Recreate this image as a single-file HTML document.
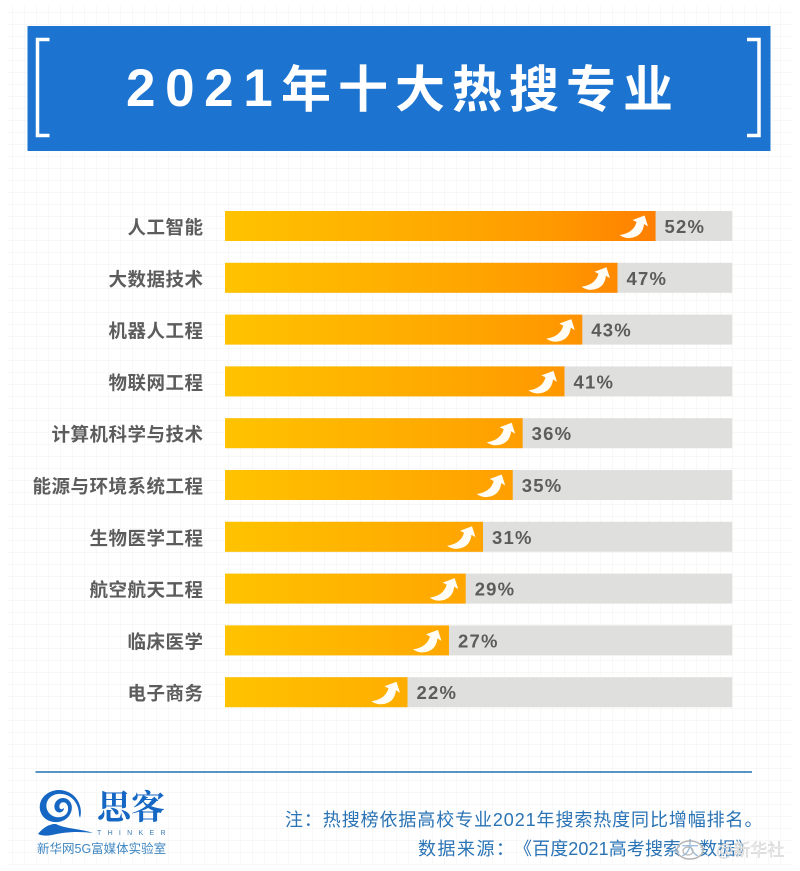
<!DOCTYPE html>
<html lang="zh">
<head>
<meta charset="utf-8">
<title>2021年十大热搜专业</title>
<style>
html,body{margin:0;padding:0;background:#fff;}
#stage{display:block;width:800px;height:871px;}
text{font-family:"Liberation Sans","Noto Sans CJK SC",sans-serif;}
</style>
</head>
<body>
<svg id="stage" xmlns="http://www.w3.org/2000/svg" width="800" height="871" viewBox="0 0 800 871">
  <defs>
    <pattern id="gridPattern" width="12" height="12" patternUnits="userSpaceOnUse">
      <path d="M0 0H12M0 0V12" stroke="#f1f1f1" stroke-width="1" fill="none"/>
    </pattern>
    <linearGradient id="barGradient" gradientUnits="userSpaceOnUse" x1="225" y1="0" x2="656" y2="0">
      <stop offset="0" stop-color="#ffc300"/>
      <stop offset="0.5" stop-color="#ffa900"/>
      <stop offset="0.75" stop-color="#ff9a00"/>
      <stop offset="1" stop-color="#ff7f00"/>
    </linearGradient>
  </defs>
  <rect x="0" y="0" width="800" height="871" fill="#ffffff"/>
  <rect x="8" y="6" width="784" height="860" fill="url(#gridPattern)"/>

  <g>
    <rect x="27.5" y="26" width="743" height="125" fill="#1c74d0"/>
    <path d="M49.5 39.5H37.5V135.5H49.5" fill="none" stroke="#ffffff" stroke-width="3.5"/>
    <path d="M747 39.5H759V135.5H747" fill="none" stroke="#ffffff" stroke-width="3.5"/>
    <text x="126" y="106" font-size="53" font-weight="700" fill="#ffffff" letter-spacing="9.6">2021</text>
    <text x="281" y="107" font-size="50" font-weight="700" fill="#ffffff" letter-spacing="7">年十大热搜专业</text>
  </g>

  <g id="chart"></g>

  <line x1="35.5" y1="772" x2="752" y2="772" stroke="#2272b0" stroke-width="1.6"/>

  <g>
    <path d="M57 790C43 792 37 803 41 813C45 823 61 826 69 816C75 808 71 798 63 798C56 798 52 806 56 811C59 814 64 812 64 808C61 811 58 808 60 804C63 800 69 803 68 810C67 818 55 820 49 813C43 805 48 795 58 794C70 793 79 802 79 815L80 818C84 806 75 789 57 790Z" fill="#1567c3"/>
    <path d="M38 834C44 826 54 822 58 825C68 829 82 829 93 833C78 831 64 832 52 835C47 836 42 836 38 834Z" fill="#1567c3"/>
    <text x="97" y="819" font-size="34" font-weight="700" fill="#1567c3" style="font-family:'Noto Serif CJK SC',serif">思客</text>
    <text x="97" y="835" font-size="7" fill="#3f7fb8" letter-spacing="6.3">THINKER</text>
    <text x="37" y="853" font-size="12.5" fill="#3f86c0">新华网5G富媒体实验室</text>
  </g>

  <text x="285" y="826" font-size="18" fill="#2a73b5" letter-spacing="0.9">注：热搜榜依据高校专业2021年搜索热度同比增幅排名。</text>
  <text x="418" y="855" font-size="18" fill="#2a73b5" letter-spacing="1.5">数据来源：</text>
  <text x="514" y="855" font-size="18" fill="#2a73b5" letter-spacing="0.1">《百度2021高考搜索大数据》</text>

  <g>
    <text x="716" y="856" font-size="17" fill="#eeeeee" stroke="#c9c9c9" stroke-width="0.4">@新华社</text>
    <ellipse cx="690" cy="850" rx="13" ry="9" fill="#ffffff" fill-opacity="0.55" stroke="#b5b5b5" stroke-width="1.5"/>
    <ellipse cx="688" cy="851" rx="5" ry="4" fill="none" stroke="#b5b5b5" stroke-width="1.2"/>
  </g>
</svg>

<script>
const categories = ["人工智能","大数据技术","机器人工程","物联网工程","计算机科学与技术","能源与环境系统工程","生物医学工程","航空航天工程","临床医学","电子商务"];
const barValues = [52, 47.4, 43.15, 41, 35.95, 34.75, 31.16, 29.07, 27.05, 22.04];

const svgNS = "http://www.w3.org/2000/svg";
const chart = document.getElementById("chart");
const trackLeft = 225, trackRight = 732.3, rowTop = 211, rowStep = 51.8, barHeight = 30;
const unitsPerPoint = 8.28;

function xScale(v){ return trackLeft + v * unitsPerPoint; }
function yScale(i){ return rowTop + i * rowStep; }
function make(tag, attrs){
  const el = document.createElementNS(svgNS, tag);
  for (const k in attrs) el.setAttribute(k, attrs[k]);
  return el;
}

categories.forEach(function(cat, i){
  const v = barValues[i];
  const y = yScale(i);
  const end = xScale(v);

  const row = make("g", {});
  
  

  const label = make("text", {x: 203.5, y: y + 23, "text-anchor": "end", "font-size": 18.5, "font-weight": 700, fill: "#5c5c5c", "letter-spacing": 0.5});
  
  
  label.textContent = cat;
  row.appendChild(label);

  const track = make("rect", {x: trackLeft, y: y, width: trackRight - trackLeft, height: barHeight, fill: "#dfdfdd"});
  
  
  row.appendChild(track);

  const bar = make("rect", {x: trackLeft, y: y, width: end - trackLeft, height: barHeight, fill: "url(#barGradient)"});
  
  
  row.appendChild(bar);

  const arrow = make("path", {
    d: "M-36 24Q-22 22 -19 11L-23 9L-11 4.5L-7.5 15.5L-11.5 13Q-13 26 -26 27Q-31 27.5 -36 24Z",
    fill: "#fffdf5",
    transform: "translate(" + end + " " + y + ")"
  });
  
  
  row.appendChild(arrow);

  const pct = make("text", {x: end + 9, y: y + 22, "font-size": 18.5, "font-weight": 700, fill: "#5c5c5c", "letter-spacing": 1.2});
  
  
  pct.textContent = Math.round(v) + "%";
  row.appendChild(pct);

  chart.appendChild(row);
});
</script>
</body>
</html>
